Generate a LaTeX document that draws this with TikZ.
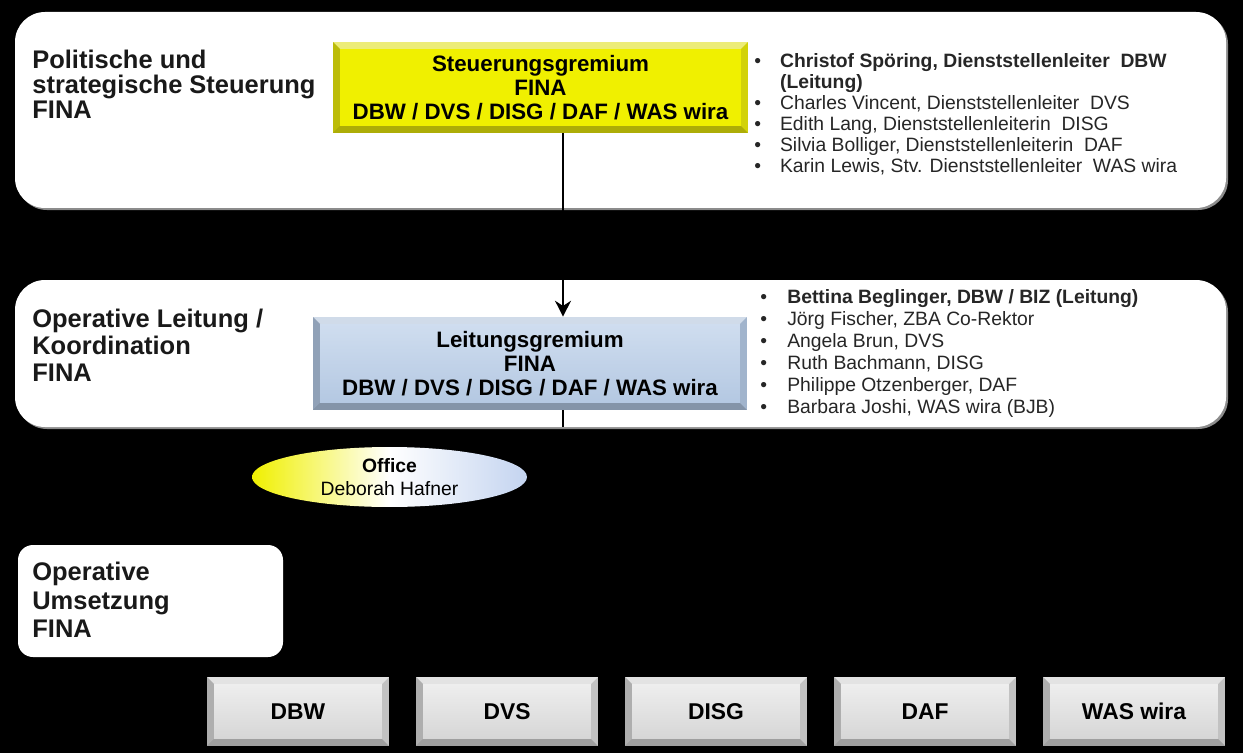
\documentclass[tikz,border=0pt]{standalone}
\usepackage{fontspec}
\setmainfont{Liberation Sans}
\usetikzlibrary{shapes.geometric}
\usetikzlibrary{arrows.meta}

\definecolor{gelb}{RGB}{240,240,0}
\definecolor{gelbrand}{RGB}{222,222,10}
\definecolor{blauoben}{RGB}{207,221,239}
\definecolor{blauunten}{RGB}{180,200,226}
\definecolor{blaurand}{RGB}{170,190,216}
\definecolor{grauoben}{RGB}{238,238,238}
\definecolor{grauunten}{RGB}{214,214,214}
\definecolor{graurand}{RGB}{205,205,205}
\definecolor{hellblau}{RGB}{196,212,240}

\tikzset{
  ebene/.style={fill=white, rounded corners=0.6cm},
  schatten/.style={fill=black!45, rounded corners=0.6cm},
  titel/.style={anchor=north west, inner sep=0pt, align=left, text=black!90, font=\fontsize{14.5}{#1}\selectfont\bfseries},
  bevel/.style n args={3}{fill=#1, inner sep=0pt, path picture={
      \coordinate (bnw) at (path picture bounding box.north west);
      \coordinate (bne) at (path picture bounding box.north east);
      \coordinate (bsw) at (path picture bounding box.south west);
      \coordinate (bse) at (path picture bounding box.south east);
      \coordinate (inw) at ([shift={(4pt,-4pt)}]bnw);
      \coordinate (ine) at ([shift={(-4pt,-4pt)}]bne);
      \coordinate (isw) at ([shift={(4pt,4pt)}]bsw);
      \coordinate (ise) at ([shift={(-4pt,4pt)}]bse);
      \fill[white, opacity=.45] (bnw) -- (bne) -- (ine) -- (inw) -- cycle;
      \fill[black, opacity=.15] (bnw) -- (bsw) -- (isw) -- (inw) -- cycle;
      \fill[black, opacity=.22] (bsw) -- (bse) -- (ise) -- (isw) -- cycle;
      \fill[black, opacity=.05] (bne) -- (bse) -- (ise) -- (ine) -- cycle;
      \shade[top color=#2, bottom color=#3] (inw) rectangle (ise);}},
  gremium/.style={align=center, font=\fontsize{12.7}{13.6}\selectfont\bfseries},
  liste/.style={anchor=north west, inner sep=0pt, text=black!85, font=\fontsize{11}{#1}\selectfont},
  einheit/.style={bevel={graurand}{grauoben}{grauunten}, minimum width=3.64cm, minimum height=1.38cm,
      font=\fontsize{13}{13}\selectfont\bfseries},
  office/.style={ellipse, minimum width=5.5cm, minimum height=1.2cm, inner sep=0pt,
      left color=gelb, right color=hellblau, middle color=white, align=center,
      font=\fontsize{11}{13}\selectfont}
}

\begin{document}
\begin{tikzpicture}[x=0.02cm, y=-0.02cm]
\useasboundingbox (0,0) rectangle (1243,753);
\fill[black] (0,0) rectangle (1243,753);

\fill[schatten] (17,14) rectangle (1228,210);
\fill[ebene] (15,12) rectangle (1226,208);
\fill[schatten] (17,282) rectangle (1228,429);
\fill[ebene] (15,280) rectangle (1226,427);
\fill[white, rounded corners=0.3cm] (18,545) rectangle (283,657);

\node[titel=14.2pt] (politik) at (32,49.5) {Politische und\\strategische Steuerung\\FINA};
\node[titel=15.5pt] (leitung) at (32,308.5) {Operative Leitung /\\Koordination\\FINA};
\node[titel=16.4pt] (umsetzung) at (32,561.5) {Operative\\Umsetzung\\FINA};

\node[gremium, bevel={gelbrand}{gelb}{gelb}, minimum width=8.3cm, minimum height=1.82cm]
  (steuer) at (540.5,87.5) {Steuerungsgremium\\FINA\\DBW / DVS / DISG / DAF / WAS wira};
\node[gremium, bevel={blaurand}{blauoben}{blauunten}, minimum width=8.68cm, minimum height=1.86cm]
  (leit) at (530,363.5) {Leitungsgremium\\FINA\\DBW / DVS / DISG / DAF / WAS wira};

\node[liste=12pt] (steuerliste) at (754,52) {%
  \begin{tabular}{@{}l@{\hspace{10.8pt}}l@{}}
  \textbullet & \textbf{Christof Spöring, Dienststellenleiter\ \ DBW}\\
              & \textbf{(Leitung)}\\
  \textbullet & Charles Vincent, Dienststellenleiter\ \ DVS\\
  \textbullet & Edith Lang, Dienststellenleiterin\ \ DISG\\
  \textbullet & Silvia Bolliger, Dienststellenleiterin\ \ DAF\\
  \textbullet & Karin Lewis, Stv. Dienststellenleiter\ \ WAS wira
  \end{tabular}};
\node[liste=12.5pt] (leitliste) at (760,288) {%
  \begin{tabular}{@{}l@{\hspace{11.5pt}}l@{}}
  \textbullet & \textbf{Bettina Beglinger, DBW / BIZ (Leitung)}\\
  \textbullet & Jörg Fischer, ZBA Co-Rektor\\
  \textbullet & Angela Brun, DVS\\
  \textbullet & Ruth Bachmann, DISG\\
  \textbullet & Philippe Otzenberger, DAF\\
  \textbullet & Barbara Joshi, WAS wira (BJB)
  \end{tabular}};

\coordinate (pfeil) at (563,0);
\coordinate (unten) at (563,427);
\draw[line width=1.6pt, -{Stealth[length=9pt,width=9pt]}] (steuer.south -| pfeil) -- (leit.north -| pfeil);
\draw[line width=1.6pt] (leit.south -| pfeil) -- (unten);

\node[office] (buero) at (389.5,477) {\textbf{Office}\\Deborah Hafner};

\foreach \name [count=\i] in {DBW,DVS,DISG,DAF,WAS wira}
  \node[einheit] (e\i) at ({298+209*(\i-1)},711.5) {\name};
\end{tikzpicture}
\end{document}
